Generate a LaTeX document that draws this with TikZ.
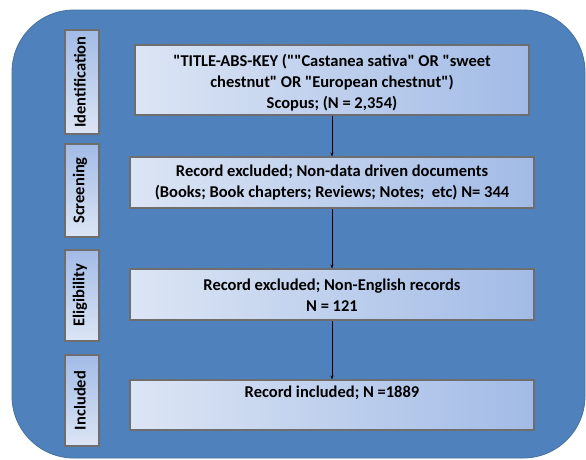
\documentclass[tikz,border=0pt]{standalone}
\usepackage{fontspec}
\setmainfont{Carlito}[Ligatures=TeXOff]
\usetikzlibrary{arrows.meta}
\definecolor{bgblue}{HTML}{4F81BD}
\definecolor{bgedge}{HTML}{41719C}
\definecolor{boxlight}{HTML}{DCE5F4}
\definecolor{boxdark}{HTML}{A2BBE6}
\definecolor{boxedge}{HTML}{6E6E6E}
\tikzset{
  stagebox/.style={draw=boxedge, line width=1.2pt, left color=boxlight, right color=boxdark, inner sep=0pt},
  sidebox/.style={draw=boxedge, line width=1.2pt, top color=boxdark, bottom color=boxlight, inner sep=0pt},
  boxtext/.style={font=\fontsize{16.5}{21}\selectfont\bfseries, align=center, inner sep=0pt},
  sidetext/.style={font=\fontsize{16.5}{18}\selectfont\bfseries, rotate=90, inner sep=0pt},
  flow/.style={-{Stealth[length=4pt,width=3pt]}, line width=0.6pt, black}
}
\begin{document}
\begin{tikzpicture}[x=1pt,y=-1pt]
\useasboundingbox (0,0) rectangle (586,459);
% background
\fill[white] (0,0) rectangle (586,459);
\draw[fill=bgblue, draw=bgedge, line width=0.8pt, rounded corners=62pt] (12,10) rectangle (585,458);
% side labels
\node[sidebox, minimum width=34pt, minimum height=104pt] (sid) at (82,82) {};
\node[sidebox, minimum width=34pt, minimum height=93pt] (ssc) at (82,190.5) {};
\node[sidebox, minimum width=34pt, minimum height=91pt] (sel) at (82,295.5) {};
\node[sidebox, minimum width=34pt, minimum height=91pt] (sin) at (82,400.5) {};
\node[sidetext] at ([xshift=-2pt]sid.center) {Identification};
\node[sidetext] at ([xshift=-2pt]ssc.center) {Screening};
\node[sidetext] at ([xshift=-2pt]sel.center) {Eligibility};
\node[sidetext] at ([xshift=-2pt]sin.center) {Included};
% stage boxes
\node[stagebox, minimum width=394pt, minimum height=70pt] (b1) at (332,80) {};
\node[stagebox, minimum width=404pt, minimum height=51pt] (b2) at (332,182.5) {};
\node[stagebox, minimum width=404pt, minimum height=51pt] (b3) at (332,294.5) {};
\node[stagebox, minimum width=404pt, minimum height=50pt] (b4) at (332,405) {};
\node[boxtext] at ([yshift=-3pt]b1.center) {"TITLE-ABS-KEY (""Castanea sativa" OR "sweet\\ chestnut" OR "European chestnut")\\ Scopus; (N = 2,354)};
\node[boxtext] at (b2.center) {Record excluded; Non-data driven documents\\ (Books; Book chapters; Reviews; Notes;\ \ etc) N= 344};
\node[boxtext] at ([yshift=-1pt]b3.center) {Record excluded; Non-English records\\ N = 121};
\node[boxtext, anchor=north] at ([yshift=-6pt]b4.north) {Record included; N =1889};
% connectors
\draw[flow] (b1.south) -- (b2.north);
\draw[flow] (b2.south) -- (b3.north);
\draw[flow] (b3.south) -- (b4.north);
\end{tikzpicture}
\end{document}
